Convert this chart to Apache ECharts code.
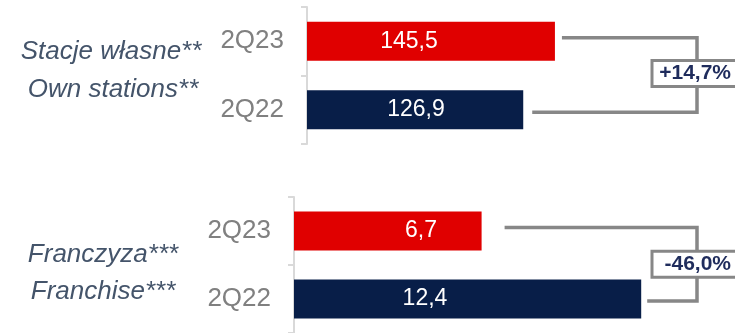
<!DOCTYPE html>
<html>
<head>
<meta charset="utf-8">
<script src="https://cdn.jsdelivr.net/npm/echarts@6/dist/echarts.min.js"></script>
<style>
  html, body { margin: 0; padding: 0; background: #ffffff; }
  #chart { width: 735px; height: 333px; }
</style>
</head>
<body>
<div id="chart"></div>
<script>
// Quarters shown in each panel (top row first)
const periods = ['2Q23', '2Q22'];
// Values per panel, same order as periods
const ownStations = [145.5, 126.9];
const franchise = [6.7, 12.4];
// Panel captions (two lines each)
const ownStationsCaption = ['Stacje własne**', 'Own stations**'];
const franchiseCaption = ['Franczyza***', 'Franchise***'];

const FONT = '"Liberation Sans", Arial, sans-serif';
const barColors = ['#E00000', '#081E48'];
const bracketGray = '#878787';
const axisGray = '#D9D9D9';

function fmtPct(cur, prev) {
  const p = (cur / prev - 1) * 100;
  const s = p.toFixed(1).replace('.', ',');
  return (p > 0 ? '+' : '') + s + '%';
}

const chart = echarts.init(document.getElementById('chart'), null, { renderer: 'canvas' });

function yAxisFor(gridIndex) {
  return {
    type: 'category',
    gridIndex: gridIndex,
    data: periods,
    inverse: true,
    offset: 2,
    axisLine: { show: true, lineStyle: { color: axisGray, width: 2 } },
    axisTick: { show: true, length: 6, lineStyle: { color: axisGray, width: 2 } },
    axisLabel: { color: '#808080', fontSize: 26, fontFamily: FONT, margin: 21 },
    splitLine: { show: false }
  };
}

function xAxisFor(gridIndex, max) {
  return {
    type: 'value', gridIndex: gridIndex, min: 0, max: max,
    show: false, splitLine: { show: false }
  };
}

// label centre measured from the bar's base, per row
const labelX = [[102, 109], [127, 131]];

function barSeries(idx, values) {
  return {
    type: 'bar',
    xAxisIndex: idx,
    yAxisIndex: idx,
    barWidth: 39,
    data: values.map((v, i) => ({
      value: v,
      itemStyle: { color: barColors[i] },
      label: { position: [labelX[idx][i], '50%'] }
    })),
    label: {
      show: true,
      align: 'center',
      verticalAlign: 'middle',
      color: '#ffffff',
      fontSize: 23,
      fontFamily: FONT,
      formatter: p => String(p.value).replace('.', ',')
    }
  };
}

chart.setOption({
  animation: false,
  grid: [
    { left: 307, top: 7, width: 426, height: 137 },
    { left: 294, top: 197, width: 420, height: 138 }
  ],
  xAxis: [xAxisFor(0, 250), xAxisFor(1, 15)],
  yAxis: [yAxisFor(0), yAxisFor(1)],
  series: [barSeries(0, ownStations), barSeries(1, franchise)]
});

// Change brackets between the two bars of each panel
const bracketX = 697;
function bracket(idx, values, gaps, offs) {
  const a = chart.convertToPixel({ xAxisIndex: idx, yAxisIndex: idx }, [values[0], periods[0]]);
  const b = chart.convertToPixel({ xAxisIndex: idx, yAxisIndex: idx }, [values[1], periods[1]]);
  const y1 = a[1] + offs[0], y2 = b[1] + offs[1];
  const mid = (y1 + y2) / 2 + offs[2];
  return [
    {
      type: 'polyline',
      shape: { points: [[a[0] + gaps[0], y1], [bracketX, y1], [bracketX, y2], [b[0] + gaps[1], y2]] },
      style: { stroke: bracketGray, lineWidth: 3.5, fill: null }
    },
    {
      type: 'rect',
      shape: { x: bracketX - 45, y: mid - 13, width: 90, height: 26 },
      style: { fill: '#ffffff', stroke: bracketGray, lineWidth: 3 }
    },
    {
      type: 'text',
      x: 731, y: mid,
      style: {
        text: fmtPct(values[0], values[1]),
        font: 'bold 21px ' + FONT,
        fill: '#1F2C5C',
        textAlign: 'right',
        textVerticalAlign: 'middle'
      }
    }
  ];
}

function caption(lines, cx, ys) {
  return lines.map((t, i) => ({
    type: 'text',
    x: cx[i], y: ys[i],
    style: {
      text: t,
      font: 'italic 26px ' + FONT,
      fill: '#44546A',
      textAlign: 'center',
      textVerticalAlign: 'middle'
    }
  }));
}

chart.setOption({
  graphic: [
    ...bracket(0, ownStations, [7, 9], [-3.5, 2.5, -1.5]),
    ...bracket(1, franchise, [23, 6], [-3.5, 2, 0]),
    ...caption(ownStationsCaption, [111, 113], [52, 90]),
    ...caption(franchiseCaption, [103, 103], [255, 292])
  ]
});
</script>
</body>
</html>
